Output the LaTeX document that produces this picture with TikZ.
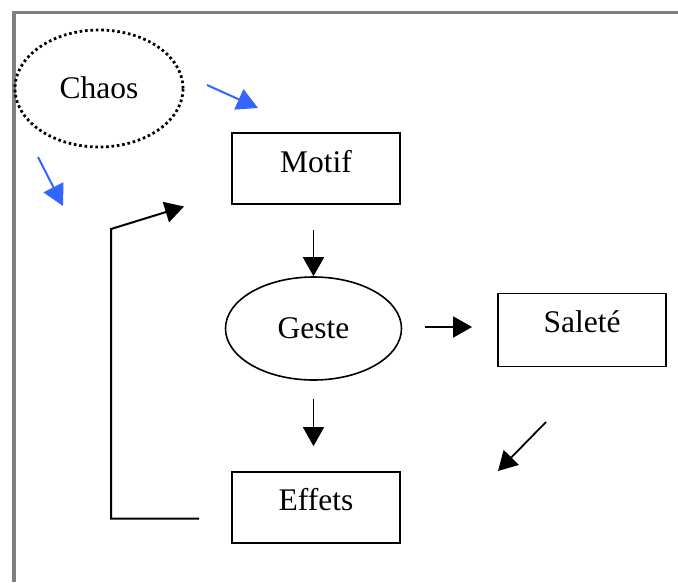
\documentclass[tikz,border=0pt]{standalone}
\usepackage{fontspec}
\setmainfont{Liberation Serif}
\usetikzlibrary{arrows.meta,shapes.geometric}
\definecolor{framegray}{RGB}{128,128,128}
\definecolor{arrowblue}{RGB}{51,102,255}
\tikzset{
  box/.style={draw, line width=1.8pt, minimum width=168pt, minimum height=71pt, inner sep=0pt},
  oval/.style={draw, ellipse, line width=1.6pt, inner sep=0pt},
  txt/.style={font=\fontsize{31.5}{36}\selectfont, inner sep=0pt},
  arr/.style={line width=1.8pt, -{Triangle[length=19pt,width=21pt]}},
  bluearr/.style={line width=2pt, draw=arrowblue, -{Triangle[length=21pt,width=22pt,fill=arrowblue]}},
  loopline/.style={line width=2pt, line join=miter, -{Triangle[length=19pt,width=21pt]}},
}
\begin{document}
\begin{tikzpicture}[x=1pt,y=-1pt]
\useasboundingbox (0,0) rectangle (678,582);
% page frame
\draw[framegray, line width=3.5pt] (14,582) -- (14,12.5) -- (678,12.5);

% shapes
\node[oval, dotted, dash pattern=on 2.6pt off 2.8pt, line width=2.8pt,
      minimum width=168pt, minimum height=117pt] (chaos) at (99,88.5) {};
\node[txt] (chaostext) at (99,88) {Chaos};

\node[box] (motif) at (316,168.5) {};
\node[txt] (motiftext) at (316,162) {Motif};

\node[oval, minimum width=176pt, minimum height=103pt] (geste) at (313.5,328.5) {};
\node[txt] (gestetext) at (313.5,328.5) {Geste};

\node[box, minimum height=73pt] (salete) at (582,330) {};
\node[txt] (saletetext) at (582,322) {Saleté};

\node[box] (effets) at (316,507.5) {};
\node[txt] (effetstext) at (316,500) {Effets};

% free arrow ends
\coordinate (b1s) at (207,85);
\coordinate (b1e) at (258,108);
\coordinate (b2s) at (38,157);
\coordinate (b2e) at (63,206);
\coordinate (ds) at (546,422);
\coordinate (de) at (498,471);
\coordinate (la) at (199,518.5);
\coordinate (lb) at (111,518.5);
\coordinate (lc) at (111,229);
\coordinate (ld) at (184,206.5);

% gaps between the boxes and the flow arrows
\coordinate (m1) at ([yshift=-25pt]motif.south);
\coordinate (g1) at ([yshift=-18pt]geste.south);
\coordinate (e1) at ([yshift=25pt]effets.north);
\coordinate (g2) at ([xshift=23pt,yshift=1.5pt]geste.east);
\coordinate (s1) at ([xshift=-25pt]salete.west);

% blue arrows out of the chaos
\draw[bluearr] (b1s) -- (b1e);
\draw[bluearr] (b2s) -- (b2e);

% main flow
\draw[arr] (geste.north |- m1) -- (geste.north);
\draw[arr] (g1) -- (g1 |- e1);
\draw[arr] (g2) -- (s1 |- g2);
\draw[arr] (ds) -- (de);

% feedback loop from Effets back to Motif
\draw[loopline] (la) -- (lb) -- (lc) -- (ld);
\end{tikzpicture}
\end{document}
